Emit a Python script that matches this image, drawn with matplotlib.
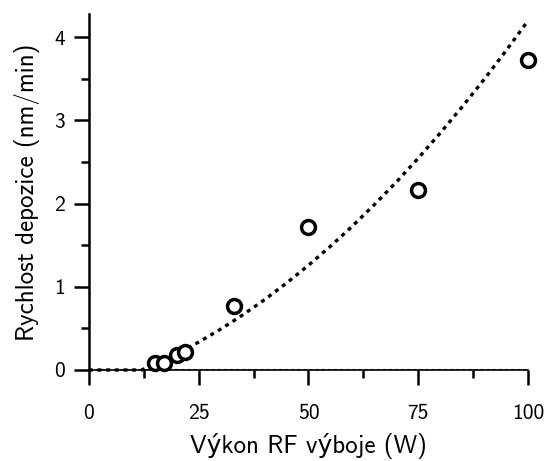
import matplotlib
matplotlib.use("Agg")
import matplotlib.pyplot as plt
from matplotlib.ticker import MultipleLocator

# measured points
vykon = [15, 17, 20, 22, 33, 50, 75, 100]
rychlost = [0.08, 0.08, 0.18, 0.22, 0.77, 1.72, 2.17, 3.73]

# fit curve
fit_x = [0, 5, 10, 12, 15, 20, 25, 30, 35, 40, 45, 50, 55, 60, 65, 70, 75, 80, 85, 90, 95, 100]
fit_y = [0, 0, 0, 0, 0.068, 0.194, 0.335, 0.491, 0.661, 0.845, 1.045, 1.259, 1.487,
         1.730, 1.988, 2.260, 2.547, 2.849, 3.165, 3.495, 3.841, 4.201]

plt.rcParams['font.family'] = ['cmss10', 'DejaVu Sans']
plt.rcParams['axes.unicode_minus'] = False

fig = plt.figure(figsize=(5.45, 4.61), dpi=100)
ax = fig.add_axes([0.163, 0.1974, 0.806, 0.7722])

ax.plot(fit_x, fit_y, color='black', lw=2.4, linestyle=(0, (1.2, 1.4)), zorder=3,
        clip_on=False)
ax.axhline(0, color='black', lw=2.2, linestyle=(0, (1.0, 1.0)), zorder=3)
ax.plot(vykon, rychlost, 'o', mfc='white', mec='black', ms=10, mew=2.5, zorder=4,
        clip_on=False)

ax.set_xlim(0, 100)
ax.set_ylim(0, 4.28)
ax.spines['top'].set_visible(False)
ax.spines['right'].set_visible(False)
ax.spines['left'].set_linewidth(1.8)
ax.spines['bottom'].set_linewidth(1.2)

ax.xaxis.set_major_locator(MultipleLocator(25))
ax.xaxis.set_minor_locator(MultipleLocator(12.5))
ax.yaxis.set_major_locator(MultipleLocator(1))
ax.yaxis.set_minor_locator(MultipleLocator(0.5))
ax.tick_params(axis='both', which='major', length=11, width=1.8, labelsize=15.5)
ax.tick_params(axis='both', which='minor', length=6, width=1.8)
ax.tick_params(axis='x', which='major', pad=13.5)
ax.tick_params(axis='y', which='major', pad=6)

ax.set_xlabel("Výkon RF výboje (W)", fontsize=18, labelpad=7)
ax.set_ylabel("Rychlost depozice (nm/min)", fontsize=18, labelpad=10)

fig.savefig("out.png", dpi=100)
